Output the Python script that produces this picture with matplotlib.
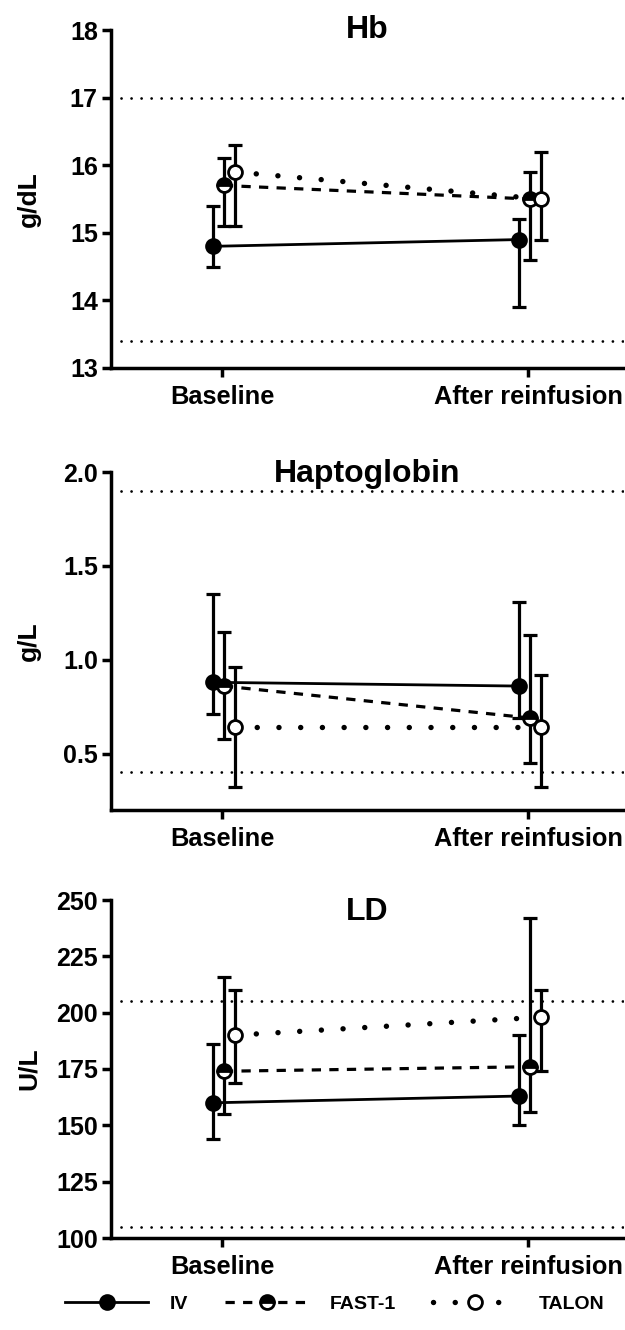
import matplotlib
matplotlib.use("Agg")
import matplotlib.pyplot as plt

plt.rcParams['font.family'] = ['Liberation Sans', 'DejaVu Sans']
plt.rcParams['font.weight'] = 'bold'

# Data (median with range bars)
groups = ['IV', 'FAST-1', 'TALON']
timepoints = ['Baseline', 'After reinfusion']

hb_iv = [14.8, 14.9]
hb_iv_lo = [14.5, 13.9]
hb_iv_hi = [15.4, 15.2]
hb_fast = [15.7, 15.5]
hb_fast_lo = [15.1, 14.6]
hb_fast_hi = [16.1, 15.9]
hb_talon = [15.9, 15.5]
hb_talon_lo = [15.1, 14.9]
hb_talon_hi = [16.3, 16.2]

hapto_iv = [0.88, 0.86]
hapto_iv_lo = [0.71, 0.69]
hapto_iv_hi = [1.35, 1.31]
hapto_fast = [0.86, 0.69]
hapto_fast_lo = [0.58, 0.45]
hapto_fast_hi = [1.15, 1.13]
hapto_talon = [0.64, 0.64]
hapto_talon_lo = [0.32, 0.32]
hapto_talon_hi = [0.96, 0.92]

ld_iv = [160, 163]
ld_iv_lo = [144, 150]
ld_iv_hi = [186, 190]
ld_fast = [174, 176]
ld_fast_lo = [155, 156]
ld_fast_hi = [216, 242]
ld_talon = [190, 198]
ld_talon_lo = [169, 174]
ld_talon_hi = [210, 210]

# reference interval (lower, upper)
hb_ref = [13.4, 17]
hapto_ref = [0.4, 1.9]
ld_ref = [105, 205]

# Styles per group
offsets = [-0.03, 0.005, 0.04]
line_styles = [
    dict(linestyle='-', linewidth=2.0),
    dict(linestyle=(0, (2.9, 2.6)), linewidth=2.3),
    dict(linestyle=(0, (0.01, 4.0)), linewidth=3.9, dash_capstyle='round'),
]
marker_styles = [
    dict(marker='o', markerfacecolor='black'),
    dict(marker='o', markerfacecolor='black', fillstyle='top', markerfacecoloralt='white'),
    dict(marker='o', markerfacecolor='white'),
]

fig = plt.figure(figsize=(6.25, 13.3), dpi=100)
FIG_H = 1330.0


def make_axes(top_px):
    bottom_px = top_px + 338
    return fig.add_axes([111 / 625, 1 - bottom_px / FIG_H, 0.82, 338 / FIG_H])


def draw_panel(ax, title, ylabel, series, ref, ylim, yticks, yticklabels, title_y):
    for i, (vals, lo, hi) in enumerate(series):
        xs = [t + offsets[i] for t in range(len(timepoints))]
        yerr = [[v - l for v, l in zip(vals, lo)], [h - v for v, h in zip(vals, hi)]]
        ax.errorbar(xs, vals, yerr=yerr, fmt='none', ecolor='black', elinewidth=2.3,
                    capsize=5.2, capthick=2.3, zorder=3)
        ax.plot(xs, vals, color='black', markersize=10, markeredgecolor='black',
                markeredgewidth=2.0, label=groups[i], zorder=4,
                **line_styles[i], **marker_styles[i])
    for r in ref:
        ax.axhline(r, color='black', linewidth=2.0, linestyle=(0, (0.01, 3.6)),
                   dash_capstyle='round', zorder=1)

    ax.set_xlim(-0.364, 1.311)
    ax.set_ylim(*ylim)
    ax.set_xticks(range(len(timepoints)))
    ax.set_xticklabels(timepoints, fontsize=18.3, fontweight='bold')
    ax.set_yticks(yticks)
    ax.set_yticklabels(yticklabels, fontsize=18, fontweight='bold')
    ax.set_ylabel(ylabel, fontsize=19, fontweight='bold')
    ax.yaxis.set_label_coords(-0.137, 0.5)
    ax.text(0.5, title_y, title, transform=ax.transAxes, ha='center', va='center',
            fontsize=23, fontweight='bold')

    ax.spines['top'].set_visible(False)
    ax.spines['right'].set_visible(False)
    ax.spines['left'].set_linewidth(2.5)
    ax.spines['bottom'].set_linewidth(2.5)
    ax.tick_params(axis='both', width=2.5, length=6.5, color='black')
    ax.tick_params(axis='x', pad=6)
    ax.tick_params(axis='y', pad=3)


ax1 = make_axes(30)
draw_panel(ax1, 'Hb', 'g/dL',
           [(hb_iv, hb_iv_lo, hb_iv_hi), (hb_fast, hb_fast_lo, hb_fast_hi),
            (hb_talon, hb_talon_lo, hb_talon_hi)],
           hb_ref, (13, 18), [13, 14, 15, 16, 17, 18],
           ['13', '14', '15', '16', '17', '18'], 1.0)

ax2 = make_axes(472)
draw_panel(ax2, 'Haptoglobin', 'g/L',
           [(hapto_iv, hapto_iv_lo, hapto_iv_hi), (hapto_fast, hapto_fast_lo, hapto_fast_hi),
            (hapto_talon, hapto_talon_lo, hapto_talon_hi)],
           hapto_ref, (0.2, 2.0), [0.5, 1.0, 1.5, 2.0],
           ['0.5', '1.0', '1.5', '2.0'], 0.995)

ax3 = make_axes(900)
draw_panel(ax3, 'LD', 'U/L',
           [(ld_iv, ld_iv_lo, ld_iv_hi), (ld_fast, ld_fast_lo, ld_fast_hi),
            (ld_talon, ld_talon_lo, ld_talon_hi)],
           ld_ref, (100, 250), [100, 125, 150, 175, 200, 225, 250],
           ['100', '125', '150', '175', '200', '225', '250'], 0.965)

handles, labels = ax1.get_legend_handles_labels()
fig.legend(handles, labels, loc='center', bbox_to_anchor=(0.535, 1 - 1304 / FIG_H),
           ncol=3, frameon=False, handlelength=4.3, handletextpad=1.1,
           columnspacing=1.9, prop={'weight': 'bold', 'size': 14})

fig.savefig('out.png', dpi=100)
